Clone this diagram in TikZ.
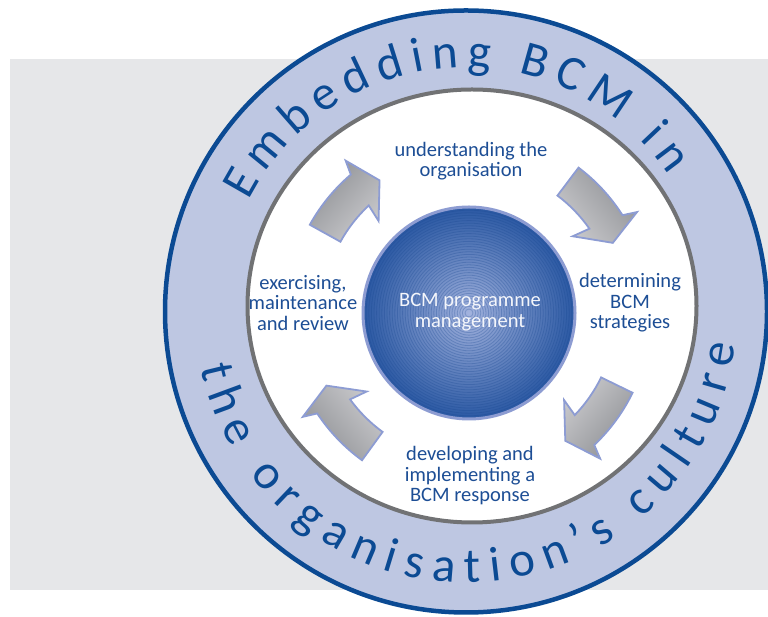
\documentclass[tikz,border=0pt]{standalone}
\usepackage{fontspec}
\setmainfont{Carlito}
\usetikzlibrary{decorations.text}
\definecolor{ringblue}{HTML}{0B4A93}
\definecolor{ringfill}{HTML}{BEC7E2}
\definecolor{panelgrey}{HTML}{E6E7E9}
\definecolor{rimgrey}{HTML}{717274}
\definecolor{labelblue}{HTML}{1D4E95}
\definecolor{sphlight}{HTML}{A3B3DE}
\definecolor{sphdark}{HTML}{2A58A3}
\definecolor{sphring}{HTML}{17468F}
\definecolor{sphrim}{HTML}{8D9CD2}
\definecolor{arrowrim}{HTML}{8D9CD3}
\definecolor{arrowdark}{HTML}{8E9094}
\definecolor{arrowmid}{HTML}{9A9C9F}
\definecolor{arrowlight}{HTML}{C9C9CC}
\begin{document}
\begin{tikzpicture}[x=1pt,y=1pt,
  cyclabel/.style={text=labelblue, align=center,
    font=\fontsize{20.5}{20.5}\selectfont, inner sep=0pt},
  cyclearrow/.style={draw=arrowrim, line width=1.8pt, line join=miter}]
\useasboundingbox (0,0) rectangle (768,617);
\fill[white] (0,0) rectangle (768,617);
% grey panel behind the wheel
\fill[panelgrey] (10,27) rectangle (768,558);
\coordinate (O) at (466,305.5);
\coordinate (I) at (472,311);
\coordinate (S) at (469,304);
% outer band and inner disc
\filldraw[fill=ringfill, draw=ringblue, line width=4.5pt] (O) circle[radius=301];
\filldraw[fill=white, draw=rimgrey, line width=4pt] (I) ellipse[x radius=224.5, y radius=216.5];
% lettering in the band
\path[decorate, decoration={text along path, text align=fit to path,
  text={|\fontsize{49}{49}\selectfont\color{ringblue}|Embedding BCM in}}]
  ([shift={(153:244)}]O) arc[start angle=153, end angle=34, radius=244];
\path[decorate, decoration={text along path, text align=fit to path,
  text={|\fontsize{49}{49}\selectfont\color{ringblue}|the organisation’s culture}}]
  ([shift={(192:271)}]O) arc[start angle=192, end angle=353, radius=271];
% curved block arrows of the cycle
\foreach \a in {137,39,320,220}{
  \pgfmathsetmacro\sa{\a-90}
  \path[cyclearrow, top color=arrowdark, middle color=arrowmid, bottom color=arrowlight, shading angle=\sa]
    ([shift={(\a+14:182)}]S) arc[start angle=\a+14, end angle=\a-6.5, radius=182]
    -- ([shift={(\a-8:196)}]S)
    -- ([shift={(\a-13:160)}]S)
    -- ([shift={(\a-2.5:129)}]S)
    -- ([shift={(\a-4:147)}]S)
    arc[start angle=\a-4, end angle=\a+14, radius=147] -- cycle;
}
% central sphere
\shade[inner color=sphlight, outer color=sphdark] (S) circle[radius=106];
\foreach \r in {4,6.6,...,104}
  \draw[sphring, opacity=0.28, line width=0.8pt] (S) circle[radius=\r];
\draw[sphrim, line width=3pt] (S) circle[radius=106];
% labels
\node[cyclabel] (understand) at (471,456) {understanding the\\organisation};
\node[cyclabel] (determine) at (630,314) {determining\\BCM\\strategies};
\node[cyclabel] (develop) at (470,141) {developing and\\implementing a\\BCM response};
\node[cyclabel] (exercise) at (303,314) {exercising,\\maintenance\\and review};
\node[cyclabel, text=white!88!sphlight] (programme) at (470,305) {BCM programme\\management};
\end{tikzpicture}
\end{document}
